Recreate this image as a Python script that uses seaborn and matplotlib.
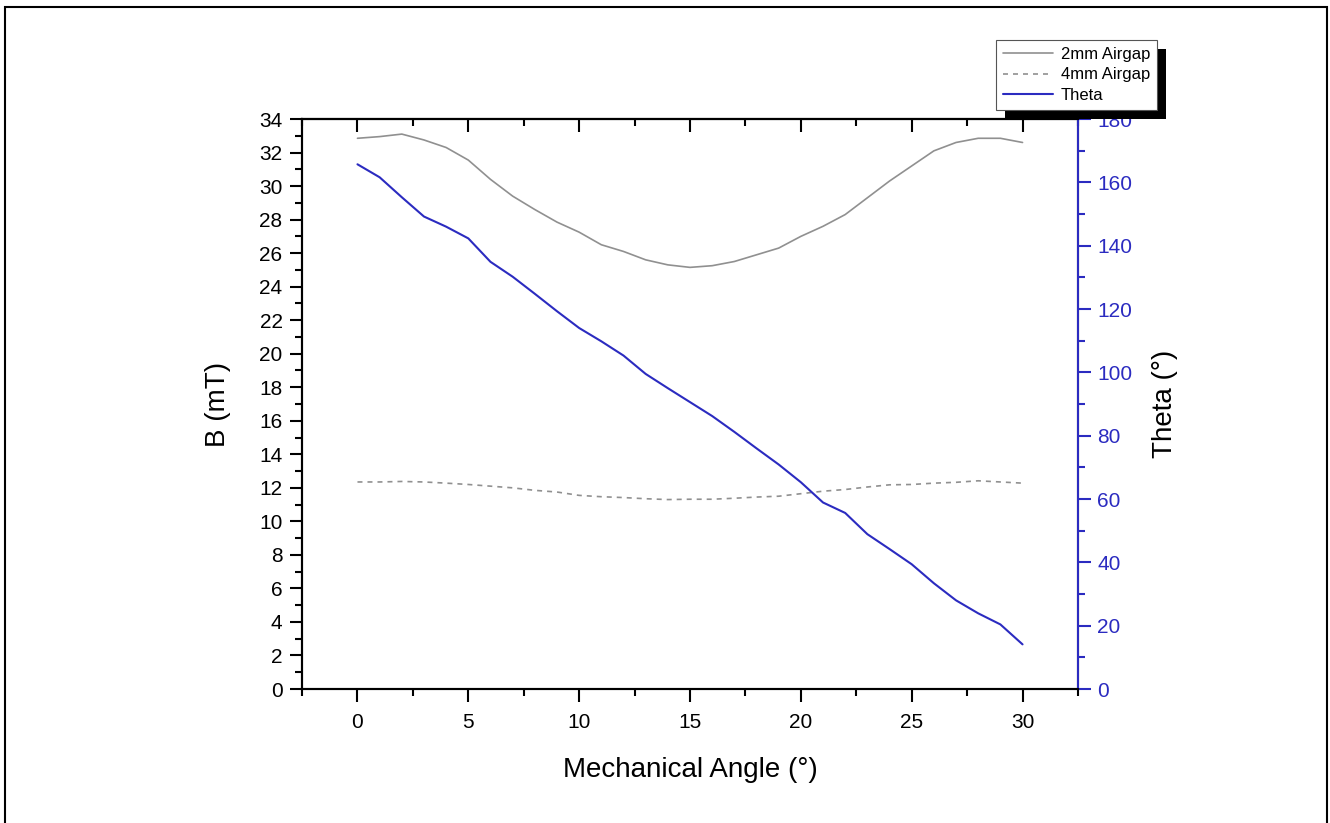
import numpy as np
import pandas as pd
import seaborn as sns
import matplotlib.pyplot as plt
from matplotlib.patches import Rectangle
from matplotlib.ticker import MultipleLocator

# mechanical angle (deg)
angle = list(range(0, 31))

# flux density for the 2 mm airgap (mT)
b_2mm = [32.85, 32.95, 33.1, 32.75, 32.3, 31.55, 30.4, 29.4, 28.6, 27.85,
         27.25, 26.5, 26.1, 25.6, 25.3, 25.15, 25.25, 25.5, 25.9, 26.3,
         27.0, 27.6, 28.3, 29.3, 30.3, 31.2, 32.1, 32.6, 32.85, 32.85, 32.6]

# flux density for the 4 mm airgap (mT)
b_4mm = [12.35, 12.35, 12.38, 12.35, 12.28, 12.2, 12.1, 12.0, 11.85, 11.75,
         11.55, 11.47, 11.42, 11.35, 11.3, 11.32, 11.32, 11.38, 11.45, 11.5,
         11.65, 11.8, 11.9, 12.05, 12.18, 12.2, 12.28, 12.33, 12.42, 12.35, 12.28]

# field angle (deg)
theta = [165.7, 161.6, 155.3, 149.2, 146.0, 142.3, 134.9, 130.2, 124.8, 119.3,
         114.0, 109.8, 105.3, 99.5, 95.0, 90.6, 86.2, 81.2, 76.0, 70.9,
         65.3, 58.9, 55.6, 48.9, 44.2, 39.4, 33.4, 28.0, 23.9, 20.4, 14.1]

df = pd.DataFrame({'angle': angle, 'b2': b_2mm, 'b4': b_4mm, 'theta': theta})

sns.set_style("ticks")
plt.rcParams['font.family'] = ['Liberation Sans', 'DejaVu Sans']
plt.rcParams['text.color'] = 'black'
plt.rcParams['axes.labelcolor'] = 'black'
plt.rcParams['xtick.color'] = 'black'
plt.rcParams['ytick.color'] = 'black'

blue = '#2b2bc0'
gray = '#909090'

fig = plt.figure(figsize=(13.3, 8.23), dpi=100)
ax = fig.add_axes([0.2271, 0.1628, 0.5834, 0.6926])
ax2 = ax.twinx()

sns.lineplot(data=df, x='angle', y='b2', ax=ax, color=gray, lw=1.2, label='2mm Airgap', legend=False)
sns.lineplot(data=df, x='angle', y='b4', ax=ax, color=gray, lw=1.2, ls=(0, (3, 3)), label='4mm Airgap', legend=False)
sns.lineplot(data=df, x='angle', y='theta', ax=ax2, color=blue, lw=1.5, label='Theta', legend=False)

ax.set_xlim(-2.5, 32.5)
ax.set_ylim(0, 34)
ax2.set_ylim(0, 180)

ax.xaxis.set_major_locator(MultipleLocator(5))
ax.xaxis.set_minor_locator(MultipleLocator(2.5))
ax.yaxis.set_major_locator(MultipleLocator(2))
ax.yaxis.set_minor_locator(MultipleLocator(1))
ax2.yaxis.set_major_locator(MultipleLocator(20))
ax2.yaxis.set_minor_locator(MultipleLocator(10))

for a in (ax, ax2):
    for s in a.spines.values():
        s.set_linewidth(1.5)
        s.set_color('black')
        s.set_visible(True)
ax2.spines['right'].set_color(blue)

ax.tick_params(axis='x', which='both', direction='out', bottom=True, top=False, width=1.5, labelsize=15, pad=8)
ax.tick_params(axis='x', which='major', length=9)
ax.tick_params(axis='x', which='minor', length=5)
ax.tick_params(axis='y', which='both', direction='out', width=1.5, labelsize=15, pad=5)
ax.tick_params(axis='y', which='major', length=9)
ax.tick_params(axis='y', which='minor', length=5)
ax2.tick_params(axis='y', which='both', direction='out', width=1.5, labelsize=15, colors=blue, pad=5)
ax2.tick_params(axis='y', which='major', length=9)
ax2.tick_params(axis='y', which='minor', length=5)

# inward ticks along the top edge
top = ax.secondary_xaxis('top')
top.xaxis.set_major_locator(MultipleLocator(5))
top.xaxis.set_minor_locator(MultipleLocator(2.5))
top.tick_params(which='both', direction='in', width=1.5, labeltop=False)
top.tick_params(which='major', length=9)
top.tick_params(which='minor', length=5)
top.spines['top'].set_linewidth(1.5)

ax.set_xlabel('Mechanical Angle (°)', fontsize=20, labelpad=18)
ax.set_ylabel('B (mT)', fontsize=20, labelpad=20)
ax2.set_ylabel('Theta (°)', fontsize=20, labelpad=14)

handles = ax.get_lines() + ax2.get_lines()
leg = fig.legend(handles, [h.get_label() for h in handles], loc='upper right',
                 bbox_to_anchor=(0.8699, 0.9514), borderaxespad=0, fontsize=12,
                 frameon=True, fancybox=False, edgecolor='#555555', framealpha=1,
                 handlelength=3.0, labelspacing=0.35, borderpad=0.4, handletextpad=0.5)
leg.get_frame().set_linewidth(0.8)

# solid black drop shadow behind the legend
fig.canvas.draw()
bb = leg.get_window_extent().transformed(fig.transFigure.inverted())
dx, dy = 9 / 1330, 9 / 823
fig.add_artist(Rectangle((bb.x0 + dx, bb.y0 - dy), bb.width, bb.height,
                         transform=fig.transFigure, facecolor='black',
                         edgecolor='none', zorder=4))

# page border
fig.add_artist(Rectangle((5 / 1330, -0.02), 1322 / 1330, 1.02 - 7 / 823,
                         transform=fig.transFigure, fill=False,
                         edgecolor='black', lw=1.5, zorder=10))

fig.savefig('out.png', dpi=100)
